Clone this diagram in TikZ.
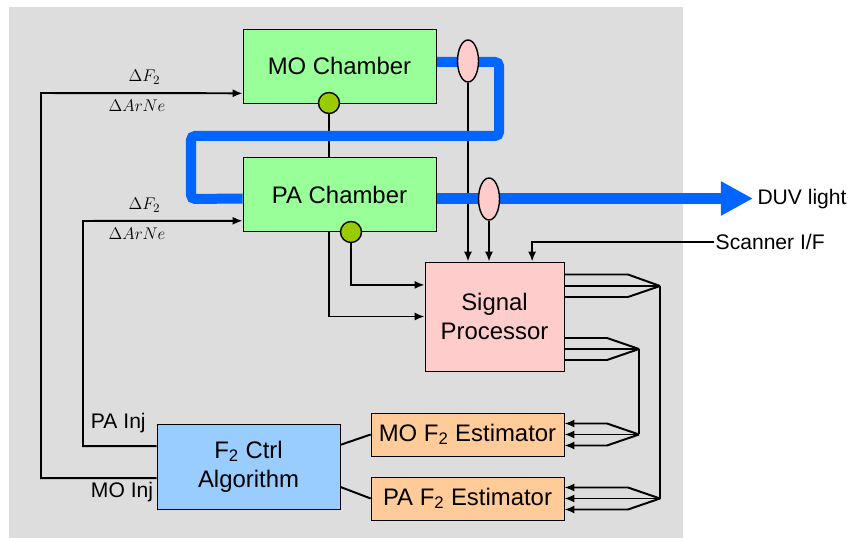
\documentclass[tikz,border=0pt]{standalone}
\usepackage{fontspec}
\setmainfont{Liberation Sans}
\usetikzlibrary{arrows.meta, shapes.geometric}
\pgfdeclarelayer{panel}
\pgfdeclarelayer{wires}
\pgfdeclarelayer{light}
\pgfsetlayers{panel,wires,light,main}
\definecolor{panelgray}{RGB}{221,221,221}
\definecolor{chambergreen}{RGB}{153,255,153}
\definecolor{sensorgreen}{RGB}{153,204,0}
\definecolor{probepink}{RGB}{255,204,204}
\definecolor{estorange}{RGB}{255,204,153}
\definecolor{ctrlblue}{RGB}{153,204,255}
\definecolor{beamblue}{RGB}{0,102,255}

\begin{document}
\begin{tikzpicture}[
			x = 0.025cm, y = -0.025cm,
			line width = 1.4pt,
			every node/.style = {font = \fontsize{17}{20.5}\selectfont, align = center},
			chamber/.style = {draw, fill = chambergreen, minimum width = 4.825cm, minimum height = 1.85cm},
			procbox/.style = {draw, fill = probepink, minimum width = 3.475cm, minimum height = 2.725cm},
			estbox/.style = {draw, fill = estorange, minimum width = 4.825cm, minimum height = 1.075cm},
			ctrlbox/.style = {draw, fill = ctrlblue, minimum width = 4.575cm, minimum height = 2.125cm},
			sensor/.style = {draw, circle, fill = sensorgreen, minimum size = 0.525cm, inner sep = 0pt, line width = 1pt},
			probe/.style = {draw, ellipse, fill = probepink, minimum width = 0.525cm, minimum height = 1.05cm, inner sep = 0pt, line width = 1pt},
			smalltext/.style = {font = \fontsize{15}{18}\selectfont},
			mathlabel/.style = {font = \fontsize{12.5}{15}\selectfont, inner sep = 0pt, anchor = base},
			wire/.style = {line width = 1.4pt},
			beam/.style = {draw = beamblue, line width = 0.25cm, rounded corners = 0.1cm},
			arr/.style = {-{Latex[length = 2.5mm, width = 2mm]}}]
	\useasboundingbox (0,0) rectangle (851,538);
	\begin{pgfonlayer}{panel}
		\fill[panelgray] (9,7) rectangle (683,538);
	\end{pgfonlayer}

	% Blocks
	\node[chamber] (mo) at (339.5,66) {MO Chamber};
	\node[chamber] (pa) at (339.5,194.5) {PA Chamber};
	\node[sensor] (mocirc) at (329,103) {};
	\node[sensor] (pacirc) at (351,232) {};
	\node[procbox] (sp) at (494.5,316.5) {Signal\\Processor};
	\node[estbox] (moest) at (467.5,434.5) {MO F\textsubscript{2} Estimator};
	\node[estbox] (paest) at (467.5,498.5) {PA F\textsubscript{2} Estimator};
	\node[ctrlbox] (ctrl) at (248.5,466.5) {F\textsubscript{2} Ctrl\\Algorithm};

	% Labels
	\node[smalltext, anchor = west, inner sep = 3pt] (duv) at (753,199) {DUV light};
	\node[smalltext, anchor = west, inner sep = 1pt] (scan) at (714,242) {Scanner I/F};
	\node[smalltext, anchor = west] (painj) at (86,423) {PA Inj};
	\node[smalltext, anchor = west] (moinj) at (86,492) {MO Inj};
	\node[mathlabel] (dfmo) at (144.5,82) {$\Delta F_2$};
	\node[mathlabel] (gasmo) at (137,112) {$\Delta ArNe$};
	\node[mathlabel] (dfpa) at (144.5,210) {$\Delta F_2$};
	\node[mathlabel] (gaspa) at (137,240) {$\Delta ArNe$};

	% Light path
	\begin{pgfonlayer}{light}
		\draw[beam] ([yshift=0.1cm]mo.east) -| (499,136) -| (191,199) -- ([yshift=-0.1cm]pa.west);
		\draw[beam, -{Triangle[length = 0.8cm, width = 0.8cm]}] ([yshift=-0.1cm]pa.east) -- ([yshift=-0.1cm]pa.east -| duv.west);
	\end{pgfonlayer}
	\node[probe] (moel) at (468,61) {};
	\node[probe] (pael) at (489,199) {};

	\begin{pgfonlayer}{wires}
	\begin{scope}[wire]
		% injection control
		\draw[arr] ([yshift=-0.29cm]ctrl.west) -| (41,93) -- ([yshift=0.25cm]mo.south west);
		\draw[arr] ([yshift=0.51cm]ctrl.west) -| (83,221) -- ([yshift=0.275cm]pa.south west);
		\draw (mocirc.south) -- (mocirc |- pa.north);

		% inputs to the processor
		\draw[arr] (moel.south) -- (moel.south |- sp.north);
		\draw[arr] (pael.south) -- (pael.south |- sp.north);
		\draw[arr] (scan.west) -| ([xshift=0.94cm]sp.north);
		\draw[arr] (pacirc.south) |- ([yshift=0.79cm]sp.west);
		\draw[arr] (mocirc |- pa.south) |- (sp.west);

		% controller to estimators
		\draw ([yshift=0.54cm]ctrl.east) -- (moest.west);
		\draw ([yshift=-0.51cm]ctrl.east) -- (paest.west);

		% data buses
		\coordinate (hubA) at (660,286);
		\coordinate (hubB) at (639,349);
		\coordinate (hubC) at (hubB |- moest);
		\coordinate (hubD) at (hubA |- paest);
		\draw (sp.east |- hubA) -- (hubA);
		\draw (sp.east |- 0,274.5) -- (628,274.5) -- (hubA);
		\draw (sp.east |- 0,297) -- (628,297) -- (hubA);
		\draw (sp.east |- hubB) -- (hubB);
		\draw (sp.east |- 0,338) -- (607,338) -- (hubB);
		\draw (sp.east |- 0,360) -- (607,360) -- (hubB);
		\draw (hubA) -- (hubD);
		\draw (hubB) -- (hubC);
		\draw[arr] (hubC) -- (moest.east);
		\draw[arr] (hubC) -- (607,423.5) -- (moest.east |- 0,423.5);
		\draw[arr] (hubC) -- (607,445.5) -- (moest.east |- 0,445.5);
		\draw[arr] (hubD) -- (paest.east);
		\draw[arr] (hubD) -- (628,487.5) -- (paest.east |- 0,487.5);
		\draw[arr] (hubD) -- (628,509.5) -- (paest.east |- 0,509.5);
	\end{scope}
	\end{pgfonlayer}
\end{tikzpicture}
\end{document}
